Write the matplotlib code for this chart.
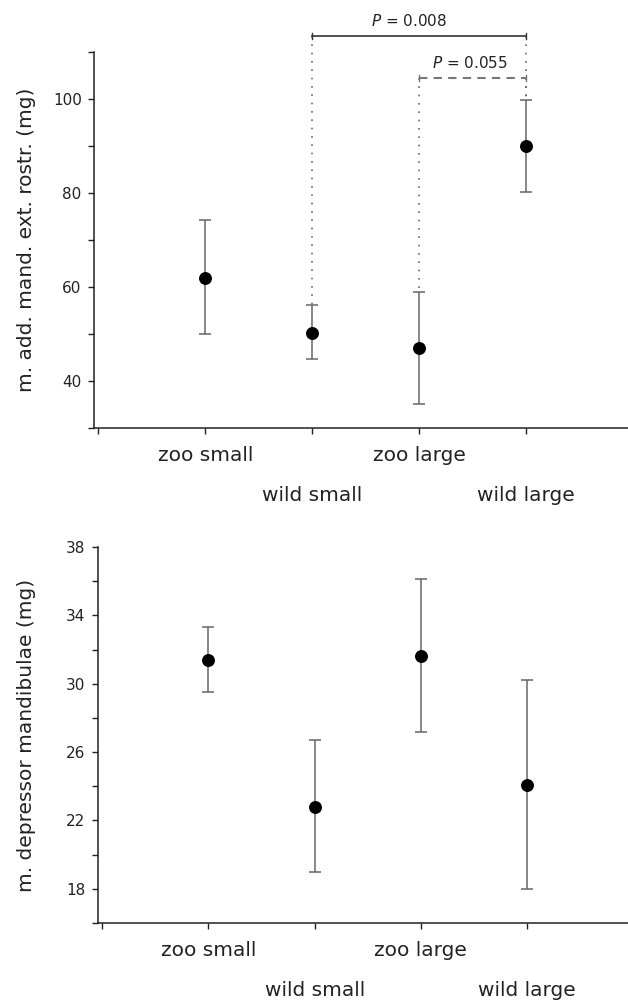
import numpy as np
import matplotlib
matplotlib.use('Agg')
import matplotlib.pyplot as plt

groups = ['zoo small', 'wild small', 'zoo large', 'wild large']

# m. add. mand. ext. rostr. (mg)
add_mean = [62.0, 50.3, 47.1, 90.0]
add_low = [50.0, 44.6, 35.2, 80.2]
add_high = [74.3, 56.2, 59.0, 99.7]

# m. depressor mandibulae (mg)
dep_mean = [31.4, 22.8, 31.6, 24.1]
dep_low = [29.5, 19.0, 27.2, 18.0]
dep_high = [33.3, 26.7, 36.1, 30.2]

# comparisons in the top panel: (group a, group b, label, bracket height)
comp_a = [1, 2]
comp_b = [3, 3]
comp_text = ['0.008', '0.055']
comp_y = [113.4, 104.5]

plt.rcParams['font.family'] = ['DejaVu Sans']
plt.rcParams['axes.linewidth'] = 1.1

fig = plt.figure(figsize=(6.28, 10), dpi=100)
ax1 = fig.add_axes([0.150, 0.572, 0.850, 0.376])
ax2 = fig.add_axes([0.156, 0.077, 0.844, 0.376])

x = np.arange(1, len(groups) + 1)
spine_col = '#222222'
err_col = '#666666'


def panel(ax, mean, low, high, ylabel, ylim, major, minor):
    mean = np.asarray(mean)
    yerr = [mean - np.asarray(low), np.asarray(high) - mean]
    ax.errorbar(x, mean, yerr=yerr, fmt='o', color='black', ms=8.3,
                ecolor=err_col, elinewidth=1.1, capsize=4, capthick=1.1, zorder=5)
    ax.set_xlim(-0.04, 4.95)
    ax.set_ylim(*ylim)
    ax.set_yticks(major)
    ax.set_yticks(minor, minor=True)
    ax.set_xticks(np.arange(0, len(groups) + 1), [''] + groups)
    for s in ['top', 'right']:
        ax.spines[s].set_visible(False)
    for s in ['left', 'bottom']:
        ax.spines[s].set_color(spine_col)
    ax.tick_params(which='both', direction='out', length=4, width=1.0, color=spine_col)
    ax.tick_params(axis='y', labelsize=11, labelcolor='#222222', pad=5)
    ax.tick_params(axis='x', labelsize=14.5, labelcolor='#222222')
    for i, t in enumerate(ax.xaxis.get_major_ticks()):
        t.set_pad(9 if i % 2 == 1 else 38)
    ax.set_ylabel(ylabel, fontsize=14.5, color='#222222')


panel(ax1, add_mean, add_low, add_high, 'm. add. mand. ext. rostr. (mg)',
      (30, 110), [40, 60, 80, 100], [30, 50, 70, 90, 110])
panel(ax2, dep_mean, dep_low, dep_high, 'm. depressor mandibulae (mg)',
      (16, 38), [18, 22, 26, 30, 34, 38], [16, 20, 24, 28, 32, 36])
ax1.yaxis.set_label_coords(-0.109, 0.5)
ax2.yaxis.set_label_coords(-0.117, 0.5)

# significance brackets
styles = [dict(color='#333333', lw=1.2, ls='-'),
          dict(color='#777777', lw=1.5, ls=(0, (4, 3)))]
text_dx = [-0.1, -0.03]
for k in range(len(comp_a)):
    xa = x[comp_a[k]]
    xb = x[comp_b[k]]
    yb = comp_y[k]
    ax1.plot([xa, xb], [yb, yb], clip_on=False, zorder=6, **styles[k])
    for xe in (xa, xb):
        ax1.plot([xe, xe], [yb - 0.6, yb + 0.6], color=styles[k]['color'],
                 lw=1.0, clip_on=False, zorder=6)
    for xe, grp in ((xa, comp_a[k]), (xb, comp_b[k])):
        ax1.plot([xe, xe], [yb, add_high[grp]], color='#666666', lw=1.2,
                 ls=(0, (1, 4)), clip_on=False, zorder=1)
    ax1.text((xa + xb) / 2 + text_dx[k], yb + 2.2, '$P$ = ' + comp_text[k],
             ha='center', va='baseline', fontsize=11, color='#222222')

fig.savefig('out.png', dpi=100)
